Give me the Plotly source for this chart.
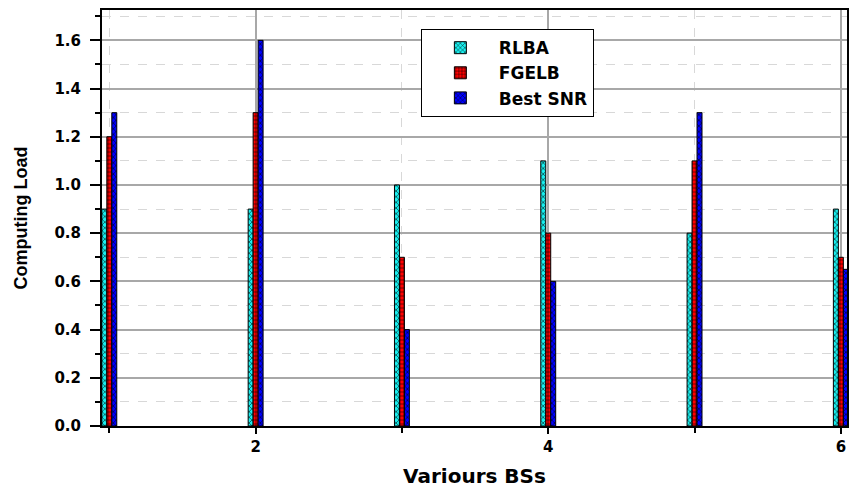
import plotly.graph_objects as go

bs = [1, 2, 3, 4, 5, 6]
rlba = [0.9, 0.9, 1.0, 1.1, 0.8, 0.9]
fgelb = [1.2, 1.3, 0.7, 0.8, 1.1, 0.7]
best_snr = [1.3, 1.6, 0.4, 0.6, 1.3, 0.65]
y_ticks = [0.0, 0.2, 0.4, 0.6, 0.8, 1.0, 1.2, 1.4, 1.6]
x_ticks = [2, 4, 6]

series = [
    ("RLBA", rlba, "#19F0F0", "x"),
    ("FGELB", fgelb, "#FF0000", "+"),
    ("Best SNR", best_snr, "#0000FF", "x"),
]

fig = go.Figure()
for name, vals, col, shp in series:
    fig.add_trace(go.Bar(
        x=bs, y=vals, name=name,
        marker=dict(color=col, line=dict(color="black", width=1),
                    pattern=dict(shape=shp, fgcolor="black", bgcolor=col,
                                 size=4, solidity=0.25, fillmode="replace")),
    ))

wide = "DejaVu Sans"
fig.update_layout(
    width=849, height=492,
    margin=dict(l=102, r=0, t=10, b=66),
    barmode="group", bargap=0.898, bargroupgap=0,
    plot_bgcolor="white", paper_bgcolor="white",
    font=dict(family=wide, color="black"),
    showlegend=True,
    legend=dict(x=0.428, y=0.954, xanchor="left", yanchor="top",
                bgcolor="white", bordercolor="black", borderwidth=1,
                font=dict(size=17, family=wide, weight="bold"),
                itemwidth=67, tracegroupgap=0),
    xaxis=dict(
        range=[0.95, 6.042], tickvals=x_ticks, ticktext=[str(v) for v in x_ticks],
        ticks="outside", ticklen=6, tickwidth=2, tickcolor="black",
        showline=True, linecolor="black", linewidth=2, mirror=True,
        showgrid=True, gridcolor="#A8A8A8", gridwidth=1.5,
        minor=dict(tickvals=[1, 3, 5], ticks="outside", ticklen=5, tickwidth=2,
                   tickcolor="black", showgrid=True, gridcolor="#D8D8D8",
                   griddash="dash", gridwidth=1),
        tickfont=dict(size=15, family=wide, weight="bold"),
        title=dict(text="Variours BSs", font=dict(size=20, family=wide, weight="bold"),
                   standoff=14),
        zeroline=False,
    ),
    yaxis=dict(
        range=[0, 1.726], tickvals=y_ticks, tickformat=".1f",
        ticks="outside", ticklen=10, tickwidth=2, tickcolor="black",
        showline=True, linecolor="black", linewidth=2, mirror=True,
        showgrid=True, gridcolor="#A8A8A8", gridwidth=1.5,
        minor=dict(dtick=0.1, tick0=0.1, ticks="outside", ticklen=5, tickwidth=2,
                   tickcolor="black", showgrid=True, gridcolor="#D8D8D8",
                   griddash="dash", gridwidth=1),
        tickfont=dict(size=15, family=wide, weight="bold"),
        ticklabelstandoff=6,
        title=dict(text="Computing Load",
                   font=dict(size=18, family="Liberation Sans, Arial", weight="bold"),
                   standoff=22),
        zeroline=False,
    ),
)
fig.write_html("out.html")
